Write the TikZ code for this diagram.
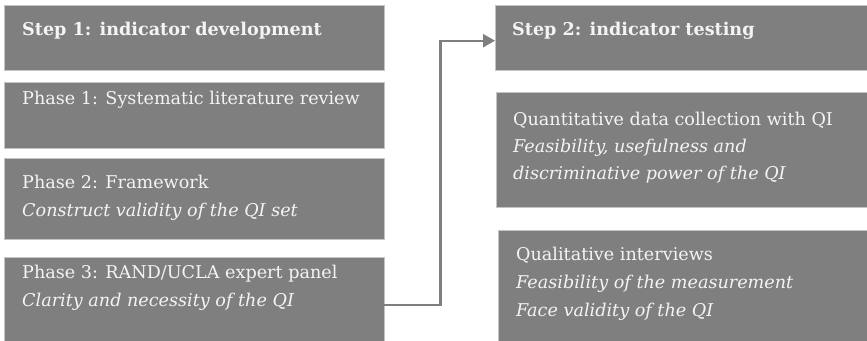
\documentclass[tikz,border=0pt]{standalone}
\usepackage{fontspec}
\setmainfont{DejaVu Serif}
\usetikzlibrary{arrows.meta}
\definecolor{boxgray}{HTML}{7F7F7F}
\definecolor{edgegray}{HTML}{C4C4C4}
\definecolor{txtwhite}{HTML}{F4F4F4}
\newcommand{\lines}[2]{\parbox[t]{340pt}{\fontsize{17.6pt}{#1}\selectfont\raggedright #2}}
\tikzset{
  panel/.style={fill=boxgray, draw=edgegray, line width=0.6pt},
  area/.style={minimum width=#1, anchor=north west, inner sep=0pt},
  label/.style={anchor=base west, inner sep=0pt, text=txtwhite,
    font=\fontsize{17.6pt}{28.5pt}\selectfont},
  conn/.style={draw=boxgray, line width=2.4pt,
    -{Triangle[length=12pt,width=13pt]}},
}
\begin{document}
\begin{tikzpicture}[x=1pt, y=-1pt]
  \useasboundingbox (0,0) rectangle (867,340);
  % left column: step 1 and its phases
  \path[panel] (4,5) rectangle (384,70);
  \node[area=380pt, minimum height=65pt] (s1) at (4,5) {};
  \path[panel] (4,82) rectangle (384,148);
  \node[area=380pt, minimum height=66pt] (p1) at (4,82) {};
  \path[panel] (4,158) rectangle (384,239);
  \node[area=380pt, minimum height=81pt] (p2) at (4,158) {};
  \path[panel] (4,257) rectangle (384,342);
  \node[area=380pt, minimum height=85pt] (p3) at (4,257) {};
  % right column: step 2 and its parts
  \path[panel] (495,5) rectangle (869,70);
  \node[area=374pt, minimum height=65pt] (s2) at (495,5) {};
  \path[panel] (496,92) rectangle (869,207);
  \node[area=373pt, minimum height=115pt] (q1) at (496,92) {};
  \path[panel] (498,230) rectangle (869,342);
  \node[area=371pt, minimum height=112pt] (q2) at (498,230) {};

  % texts
  \node[label] (s1t) at (22,35) {\bfseries Step 1: indicator development};
  \node[label] (p1t) at (22,104) {Phase 1: Systematic literature review};
  \node[label] (p2t) at (22,188) {\lines{28.5pt}{Phase 2: Framework\\\itshape Construct validity of the QI set}};
  \node[label] (p3t) at (22,278) {\lines{28.5pt}{Phase 3: RAND/UCLA expert panel\\\itshape Clarity and necessity of the QI}};
  \node[label] (s2t) at (512,35) {\bfseries Step 2: indicator testing};
  \node[label] (q1t) at (513,125) {\lines{27pt}{Quantitative data collection with QI\\\itshape Feasibility, usefulness and\\ discriminative power of the QI}};
  \node[label] (q2t) at (516,260) {\lines{28.3pt}{Qualitative interviews\\\itshape Feasibility of the measurement\\ Face validity of the QI}};

  % connector from step 1 to step 2
  \draw[conn] ([yshift=-5.5pt]p3.east) -- ++(56,0) |- ([yshift=-3pt]s2.west);
\end{tikzpicture}
\end{document}
